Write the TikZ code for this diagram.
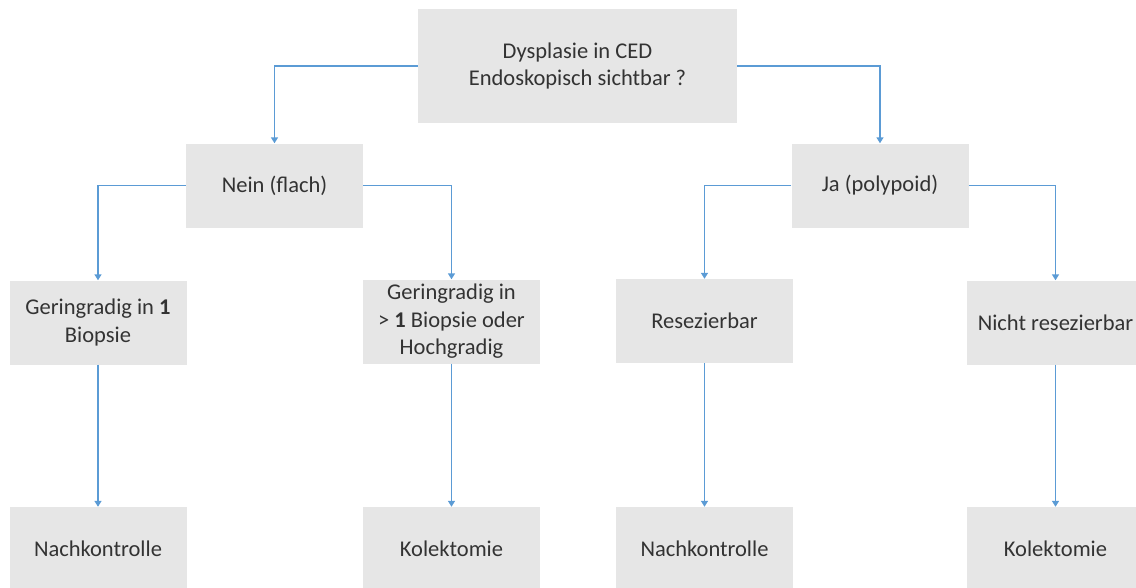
\documentclass[tikz,border=0pt]{standalone}
\usepackage{fontspec}
\setmainfont{Carlito}
\usetikzlibrary{arrows.meta}
\definecolor{boxgray}{HTML}{E6E6E6}
\definecolor{txtgray}{HTML}{333333}
\definecolor{arrblue}{HTML}{5B9BD5}
\begin{document}
\begin{tikzpicture}[x=1pt,y=-1pt,
  box/.style={fill=boxgray, draw=none, inner sep=0pt, align=center,
    text=txtgray, font=\fontsize{22.5}{27.5}\selectfont,
    minimum width=177pt, minimum height=84pt},
  conn/.style={draw=arrblue, line width=1.4pt,
    -{Triangle[length=6pt,width=7pt]}}]
\useasboundingbox (0,0) rectangle (1136,587);
\clip (0,0) rectangle (1136,587);
\node[box, minimum width=319pt, minimum height=114pt] (top) at (577.5,66) {Dysplasie in CED\\Endoskopisch sichtbar ?};
\node[box] (nein) at (274.5,185.5) {Nein (flach)};
\node[box] (ja) at (880,185.5) {Ja (polypoid)};
\node[box] (g1) at (98,322.5) {Geringradig in \textbf{1}\\Biopsie};
\node[box] (g2) at (451.5,321.5) {Geringradig in\\> \textbf{1} Biopsie oder\\Hochgradig};
\node[box] (res) at (704.5,321) {Resezierbar};
\node[box] (nres) at (1055.5,322.5) {Nicht resezierbar};
\node[box] (b1) at (98,549) {Nachkontrolle};
\node[box] (b2) at (451.5,549) {Kolektomie};
\node[box] (b3) at (704.5,549) {Nachkontrolle};
\node[box] (b4) at (1055.5,549) {Kolektomie};
\draw[conn] (top.west) -| (nein.north);
\draw[conn] (top.east) -| (ja.north);
\draw[conn] (nein.west) -| (g1.north);
\draw[conn] (nein.east) -| (g2.north);
\draw[conn] (ja.west) -| (res.north);
\draw[conn] (ja.east) -| (nres.north);
\draw[conn] (g1.south) -- (b1.north);
\draw[conn] (g2.south) -- (b2.north);
\draw[conn] (res.south) -- (b3.north);
\draw[conn] (nres.south) -- (b4.north);
\end{tikzpicture}
\end{document}
